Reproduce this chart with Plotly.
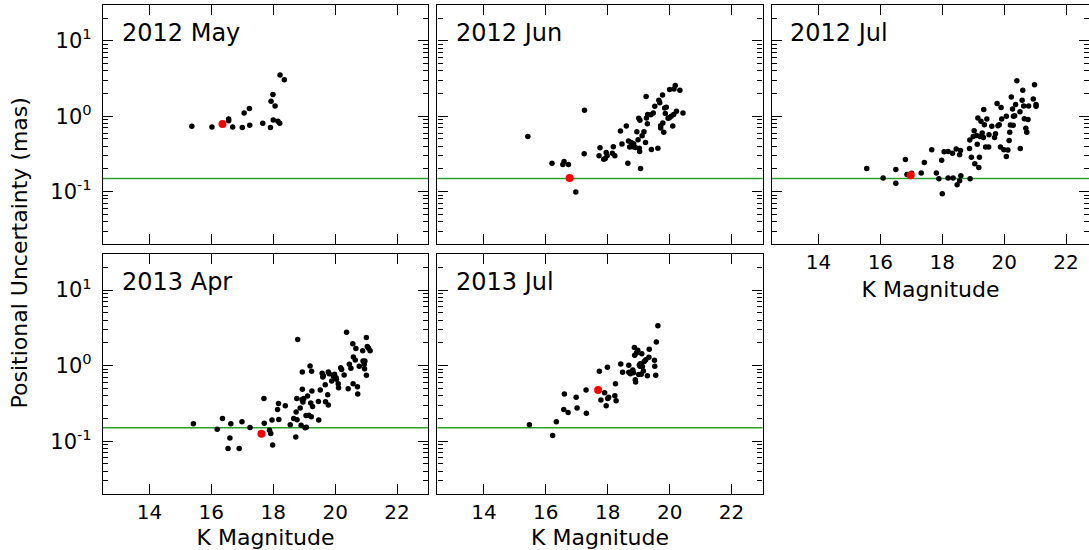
import plotly.graph_objects as go

# ---------------- data ----------------
panel_titles = ["2012 May", "2012 Jun", "2012 Jul", "2013 Apr", "2013 Jul"]

k_2012may = [15.37, 16.02, 16.56, 16.56, 16.69, 17.00, 17.06, 17.23, 17.24, 17.66,
             17.91, 17.93, 17.99, 18.06, 18.00, 18.15, 18.21, 18.22, 18.36]
unc_2012may = [0.74, 0.72, 0.92, 0.875, 0.72, 0.71, 1.11, 1.27, 0.76, 0.81,
               0.71, 1.58, 1.95, 1.37, 0.89, 0.86, 0.81, 3.52, 3.05]

k_2012jun = [15.42, 17.25, 16.20, 16.55, 16.59, 16.73, 16.97, 17.24, 17.72, 17.75,
             17.87, 17.95, 17.98, 17.92, 18.18, 18.15, 18.23, 18.41, 18.46, 18.60,
             18.65, 18.67, 18.71, 18.76, 18.81, 18.84, 18.89, 18.94, 18.98, 19.00,
             19.02, 19.03, 19.04, 19.06, 19.11, 19.17, 19.22, 19.24, 19.25, 19.28,
             19.29, 19.41, 19.39, 19.47, 19.52, 19.62, 19.65, 19.68, 19.71, 19.71,
             19.77, 19.78, 19.81, 19.84, 19.86, 19.89, 19.95, 19.99, 20.00, 20.05,
             20.10, 20.13, 20.18, 20.22, 20.33, 20.43, 20.14]
unc_2012jun = [0.54, 1.20, 0.239, 0.229, 0.251, 0.229, 0.099, 0.318, 0.299, 0.382,
               0.270, 0.331, 0.299, 0.275, 0.394, 0.324, 0.299, 0.637, 0.428, 0.743,
               0.239, 0.469, 0.390, 0.450, 0.394, 0.432, 0.386, 0.625, 0.489, 0.94,
               0.378, 0.341, 0.885, 0.203, 0.552, 0.625, 0.450, 1.83, 0.95, 0.798,
               1.06, 0.363, 1.05, 1.11, 1.36, 0.378, 1.63, 1.51, 0.751, 0.699,
               1.91, 0.815, 0.612, 1.29, 1.09, 1.32, 0.94, 0.96, 2.27, 1.00,
               0.743, 1.06, 2.56, 1.17, 2.22, 1.11, 2.31]

k_2012jul = [15.56, 16.09, 16.50, 16.50, 16.81, 16.86, 17.01, 17.32, 17.42, 17.66,
             17.81, 17.89, 17.98, 18.00, 18.06, 18.19, 18.19, 18.33, 18.35, 18.45,
             18.48, 18.56, 18.59, 18.60, 18.56, 18.90, 18.88, 18.89, 18.94, 19.00,
             19.03, 19.05, 19.11, 19.13, 19.15, 19.18, 19.20, 19.22, 19.25, 19.29,
             19.33, 19.34, 19.36, 19.40, 19.44, 19.50, 19.51, 19.60, 19.69, 19.72,
             19.77, 19.80, 19.84, 19.88, 19.90, 19.92, 19.99, 20.07, 20.07, 20.12,
             20.16, 20.18, 20.20, 20.23, 20.27, 20.29, 20.30, 20.34, 20.37, 20.41,
             20.52, 20.51, 20.58, 20.60, 20.63, 20.65, 20.70, 20.73, 20.77, 20.79,
             20.94, 20.98, 21.03, 21.03]
unc_2012jul = [0.203, 0.152, 0.196, 0.129, 0.267, 0.169, 0.175, 0.177, 0.244, 0.360,
               0.177, 0.148, 0.262, 0.094, 0.338, 0.341, 0.152, 0.324, 0.152, 0.367,
               0.123, 0.308, 0.352, 0.162, 0.139, 0.148, 0.374, 0.483, 0.287, 0.541,
               0.644, 0.234, 0.558, 0.424, 0.95, 0.209, 0.287, 0.541, 0.858, 0.600,
               0.525, 1.23, 0.774, 0.390, 0.921, 0.390, 0.570, 0.735, 0.525, 0.588,
               1.48, 0.751, 0.774, 0.390, 1.31, 0.921, 0.360, 1.00, 0.293, 0.356,
               0.479, 0.612, 0.766, 1.81, 1.25, 0.759, 1.00, 1.02, 1.43, 2.96,
               0.374, 1.15, 1.63, 2.22, 1.37, 0.93, 0.692, 0.612, 0.904, 1.37,
               1.70, 2.62, 1.43, 1.36]

k_2013apr = [15.42, 16.19, 16.36, 16.54, 16.60, 16.63, 16.90, 16.99, 17.25, 17.70,
             17.71, 17.88, 17.92, 17.96, 17.98, 18.14, 18.17, 18.18, 18.39, 18.55,
             18.66, 18.73, 18.74, 18.76, 18.77, 18.79, 18.87, 18.90, 18.93, 18.94,
             18.94, 18.96, 18.99, 19.03, 19.06, 19.07, 19.11, 19.15, 19.19, 19.21,
             19.23, 19.24, 19.25, 19.27, 19.46, 19.47, 19.52, 19.58, 19.60, 19.62,
             19.68, 19.69, 19.76, 19.78, 19.78, 19.81, 19.89, 19.94, 19.98, 20.03,
             20.04, 20.10, 20.11, 20.18, 20.21, 20.29, 20.37, 20.42, 20.46, 20.51,
             20.57, 20.58, 20.59, 20.65, 20.67, 20.72, 20.73, 20.78, 20.89, 20.90,
             20.94, 20.95, 20.96, 21.01, 21.01, 21.04, 21.08, 21.13]
unc_2013apr = [0.170, 0.144, 0.200, 0.080, 0.110, 0.170, 0.080, 0.181, 0.152, 0.368,
               0.173, 0.139, 0.126, 0.190, 0.089, 0.263, 0.316, 0.194, 0.294, 0.165,
               0.200, 0.114, 0.243, 0.368, 0.192, 2.21, 0.274, 0.163, 0.357, 0.824,
               0.485, 0.330, 0.368, 0.150, 0.219, 0.153, 0.396, 0.221, 0.99, 0.319,
               0.210, 0.841, 0.461, 0.288, 0.336, 0.190, 0.475, 0.791, 0.707, 0.736,
               0.560, 0.333, 0.412, 0.824, 0.301, 0.783, 0.626, 0.729, 0.767, 0.693,
               0.659, 0.577, 0.511, 0.940, 0.885, 0.752, 2.77, 0.495, 1.04, 0.922,
               1.94, 0.577, 1.30, 1.19, 1.68, 0.526, 0.421, 0.98, 1.57, 1.15,
               1.04, 0.912, 1.15, 2.35, 0.744, 1.79, 1.70, 1.57]

k_2013jul = [15.47, 16.22, 16.34, 16.58, 16.60, 16.72, 16.98, 17.01, 17.30, 17.31,
             17.73, 17.78, 17.90, 17.95, 17.99, 18.00, 18.03, 18.23, 18.25, 18.27,
             18.42, 18.48, 18.68, 18.68, 18.73, 18.77, 18.81, 18.83, 18.86, 18.87,
             18.89, 18.90, 18.93, 18.97, 19.00, 19.02, 19.04, 19.05, 19.08, 19.10,
             19.12, 19.15, 19.18, 19.23, 19.28, 19.33, 19.34, 19.51, 19.52, 19.55,
             19.57, 19.62]
unc_2013jul = [0.165, 0.119, 0.181, 0.263, 0.421, 0.240, 0.380, 0.274, 0.475, 0.235,
               0.841, 0.350, 0.438, 0.294, 0.951, 0.368, 0.380, 0.400, 0.577, 0.343,
               1.05, 0.816, 1.01, 0.816, 0.783, 0.832, 0.875, 0.807, 1.73, 1.37,
               0.652, 0.607, 1.47, 1.60, 0.760, 1.02, 0.98, 1.06, 0.767, 1.44,
               0.97, 0.850, 1.13, 1.20, 0.736, 1.29, 1.65, 1.18, 0.98, 0.744,
               2.06, 3.36]

# highlighted (red) source in each epoch
red_k = [16.36, 16.77, 16.98, 17.62, 17.69]
red_unc = [0.79, 0.152, 0.165, 0.125, 0.475]

threshold_unc = 0.15  # green reference line (mas)

x_ticks = [14, 16, 18, 20, 22]
y_ticks = [0.1, 1, 10]
y_tick_text = ["10<sup>-1</sup>", "10<sup>0</sup>", "10<sup>1</sup>"]
y_minor = [0.02, 0.03, 0.04, 0.05, 0.06, 0.07, 0.08, 0.09,
           0.2, 0.3, 0.4, 0.5, 0.6, 0.7, 0.8, 0.9,
           2, 3, 4, 5, 6, 7, 8, 9, 20, 30]

k_sets = [k_2012may, k_2012jun, k_2012jul, k_2013apr, k_2013jul]
unc_sets = [unc_2012may, unc_2012jun, unc_2012jul, unc_2013apr, unc_2013jul]

# ---------------- layout ----------------
FONT = "DejaVu Sans"
col_domains = [[0.0, 0.3296], [0.3392, 0.6689], [0.6785, 1.0]]
row_domains = [[0.5106, 1.0], [0.0, 0.4908]]
panel_pos = [(0, 0), (0, 1), (0, 2), (1, 0), (1, 1)]
x_ranges = [[12.5, 23], [12.5, 23], [12.5, 22.74], [12.5, 23], [12.5, 23]]
show_xlabels = [False, False, True, True, True]
show_ylabels = [True, False, False, True, False]

fig = go.Figure()
layout = dict(
    width=1089, height=550,
    margin=dict(l=103, r=0, t=5, b=56),
    paper_bgcolor="white", plot_bgcolor="white",
    showlegend=False,
    font=dict(family=FONT, color="black"),
    annotations=[], shapes=[],
)

for i in range(5):
    n = "" if i == 0 else str(i + 1)
    xa, ya = "x" + n, "y" + n
    r, c = panel_pos[i]
    fig.add_trace(go.Scatter(
        x=k_sets[i], y=unc_sets[i], mode="markers", xaxis=xa, yaxis=ya,
        marker=dict(color="black", size=5.5, line=dict(width=0)),
        hoverinfo="x+y"))
    fig.add_trace(go.Scatter(
        x=[red_k[i]], y=[red_unc[i]], mode="markers", xaxis=xa, yaxis=ya,
        marker=dict(color="#ff0000", size=8, line=dict(width=0)),
        hoverinfo="x+y"))
    xaxis = dict(
        domain=col_domains[c], anchor=ya, range=x_ranges[i],
        tickmode="array", tickvals=x_ticks,
        showticklabels=show_xlabels[i],
        ticks="inside", ticklen=10, tickwidth=1, tickcolor="black",
        mirror="allticks", showline=True, linecolor="black", linewidth=1.2,
        showgrid=False, zeroline=False,
        tickfont=dict(family=FONT, size=20, color="black"),
        ticklabelstandoff=0,
    )
    if show_xlabels[i]:
        xaxis["title"] = dict(text="K Magnitude",
                              font=dict(family=FONT, size=22, color="black"),
                              standoff=8)
    layout["xaxis" + n] = xaxis
    layout["yaxis" + n] = dict(
        domain=row_domains[r], anchor=xa, type="log",
        range=[-1.699, 1.477],
        tickmode="array", tickvals=y_ticks, ticktext=y_tick_text,
        showticklabels=show_ylabels[i],
        ticks="inside", ticklen=10, tickwidth=1, tickcolor="black",
        minor=dict(tickmode="array", tickvals=y_minor, ticks="inside",
                   ticklen=5, tickwidth=1, tickcolor="black", showgrid=False),
        mirror="allticks", showline=True, linecolor="black", linewidth=1.2,
        showgrid=False, zeroline=False,
        tickfont=dict(family=FONT, size=21, color="black"),
        ticklabelstandoff=6,
    )
    layout["shapes"].append(dict(
        type="line", xref=xa + " domain", yref=ya, x0=0, x1=1,
        y0=threshold_unc, y1=threshold_unc,
        line=dict(color="#2ca02c", width=1.5), layer="below"))
    layout["annotations"].append(dict(
        text=panel_titles[i], xref=xa + " domain", yref=ya + " domain",
        x=0.052, y=0.883, xanchor="left", yanchor="middle", showarrow=False,
        font=dict(family=FONT, size=24, color="black")))

layout["annotations"].append(dict(
    text="Positional Uncertainty (mas)", xref="paper", yref="paper",
    x=-0.0852, y=0.494, xanchor="center", yanchor="middle", textangle=-90,
    showarrow=False, font=dict(family=FONT, size=22, color="black")))

fig.update_layout(**layout)
fig.write_html("out.html")
